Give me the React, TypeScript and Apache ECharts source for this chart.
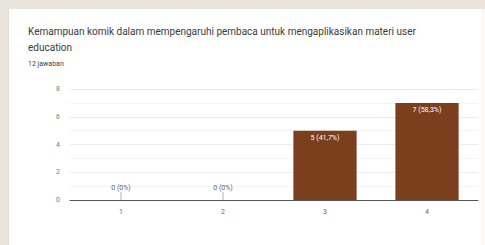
import React, { useEffect, useRef } from "react";
import * as echarts from "echarts";

const categories = ["1", "2", "3", "4"];
const values = [0, 0, 5, 7];
const labels = ["0 (0%)", "0 (0%)", "5 (41,7%)", "7 (58,3%)"];
const yTicks = [0, 2, 4, 6, 8];
const titleLine1 = "Kemampuan komik dalam mempengaruhi pembaca untuk mengaplikasikan materi user";
const titleLine2 = "education";
const subtitle = "12 jawaban";

export default function App() {
  const ref = useRef<HTMLDivElement>(null);
  useEffect(() => {
    document.body.style.margin = "0";
    const chart = echarts.init(ref.current!, undefined, { renderer: "svg" });
    chart.setOption({
      animation: false,
      textStyle: { fontFamily: "Roboto" },
      title: [
        { text: titleLine1, left: 23, top: 21, textStyle: { fontSize: 10, fontWeight: "normal", color: "#3a3a3a", fontFamily: "Roboto" } },
        { text: titleLine2, left: 23, top: 37, textStyle: { fontSize: 10, fontWeight: "normal", color: "#3a3a3a", fontFamily: "Roboto" } },
        { text: subtitle, left: 23, top: 55, textStyle: { fontSize: 7, fontWeight: "normal", color: "#444", fontFamily: "Roboto" } },
      ],
      grid: { left: 70, right: 7, top: 89, bottom: 45, containLabel: false },
      xAxis: {
        type: "category",
        data: categories,
        axisLine: { lineStyle: { color: "#555", width: 1 } },
        axisTick: { show: false },
        axisLabel: { color: "#666", fontSize: 7, margin: 8 },
      },
      yAxis: {
        type: "value",
        min: 0,
        max: yTicks[yTicks.length - 1],
        interval: 2,
        axisLine: { show: false },
        axisTick: { show: false },
        axisLabel: { color: "#777", fontSize: 7, margin: 10 },
        splitLine: { lineStyle: { color: "#ececec" } },
        minorTick: { show: false, splitNumber: 2 },
        minorSplitLine: { show: true, lineStyle: { color: "#f4f4f4" } },
      },
      series: [
        {
          type: "bar",
          barWidth: "62%",
          itemStyle: { color: "#7b3f1d" },
          data: values.map((v, i) => ({
            value: v,
            label: {
              show: true,
              formatter: labels[i],
              position: v > 0 ? "insideTop" : "top",
              distance: v > 0 ? 4 : 9,
              color: v > 0 ? "#fff" : "#666",
              fontSize: 7,
            },
          })),
        },
        {
          type: "custom",
          coordinateSystem: "cartesian2d",
          silent: true,
          z: 5,
          encode: { x: 0, y: 1 },
          data: values.map((v, i) => [i, v]),
          renderItem: (params: any, api: any) => {
            if (api.value(1) !== 0) return { type: "group", children: [] };
            const p = api.coord([api.value(0), 0]);
            return {
              type: "line",
              shape: { x1: p[0], y1: p[1] - 8, x2: p[0], y2: p[1] },
              style: { stroke: "#b5b5b5", lineWidth: 1 },
            };
          },
        },
      ],
    });
    return () => chart.dispose();
  }, []);
  return (
    <div style={{ position: "relative", width: 485, height: 245, background: "#ebe4dc", overflow: "hidden" }}>
      <div
        style={{
          position: "absolute",
          left: 8,
          top: 9,
          width: 472,
          height: 240,
          background: "#fff",
          borderLeft: "1px solid #e2dbd4",
          borderRight: "1px solid #eeeeee",
        }}
      />
      <div style={{ position: "absolute", left: 481, top: 9, width: 4, height: 236, background: "#fbfaf9" }} />
      <div ref={ref} style={{ position: "absolute", left: 0, top: 0, width: 485, height: 245 }} />
    </div>
  );
}
